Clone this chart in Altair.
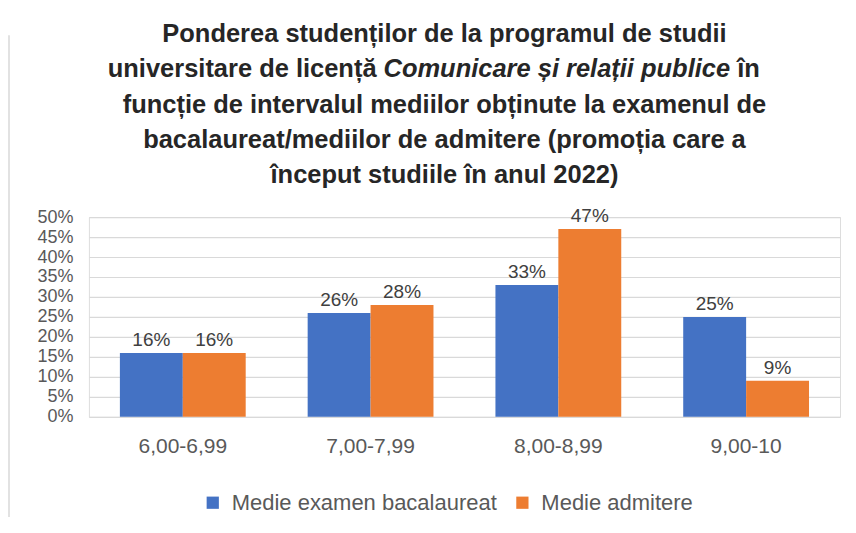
import altair as alt
import pandas as pd

categories = ["6,00-6,99", "7,00-7,99", "8,00-8,99", "9,00-10"]
series_names = ["Medie examen bacalaureat", "Medie admitere"]
bac_values = [16, 26, 33, 25]
adm_values = [16, 28, 47, 9]
colors = ["#4472C4", "#ED7D31"]

title_lines = [
    "Ponderea studenților de la programul de studii",
    None,
    "funcție de intervalul mediilor obținute la examenul de",
    "bacalaureat/mediilor de admitere (promoția care a",
    "început studiile în anul 2022)",
]
title_line2 = ["universitare de licență", "Comunicare și relații publice", "în"]

rows = []
for c, b, a in zip(categories, bac_values, adm_values):
    rows.append({"cat": c, "serie": series_names[0], "val": b / 100})
    rows.append({"cat": c, "serie": series_names[1], "val": a / 100})
df = pd.DataFrame(rows)

W, H = 752, 200
FONT = "Liberation Sans"
TFS = 25.5

x = alt.X("cat:N", sort=categories, title=None,
          scale=alt.Scale(paddingInner=0.33, paddingOuter=0.165),
          axis=alt.Axis(labelAngle=0, labelFont=FONT, labelFontSize=21, labelColor="#595959",
                        labelPadding=19, ticks=False, domain=False, grid=False))
xoff = alt.XOffset("serie:N", sort=series_names, scale=alt.Scale(paddingInner=0, paddingOuter=0))
y = alt.Y("val:Q", title=None,
          scale=alt.Scale(domain=[0, 0.5]),
          axis=alt.Axis(format=".0%", values=[i / 100 for i in range(0, 51, 5)], labelFont=FONT,
                        labelFontSize=18, labelColor="#595959", labelPadding=16, ticks=False,
                        domain=False, gridColor="#D9D9D9", gridWidth=1.2))
color = alt.Color("serie:N", sort=series_names,
                  scale=alt.Scale(domain=series_names, range=colors),
                  legend=alt.Legend(title=None, orient="none", direction="horizontal",
                                    legendX=113, legendY=275, symbolType="square", symbolSize=150,
                                    symbolStrokeWidth=0, labelFont=FONT, labelFontSize=22,
                                    labelColor="#595959", columnPadding=14, labelOffset=8,
                                    labelLimit=0))

base = alt.Chart(df).encode(x=x, xOffset=xoff, y=y)
bars = base.mark_bar(strokeWidth=0).encode(color=color)
labels = base.mark_text(dy=-13, font=FONT, fontSize=19, color="#404040").encode(
    text=alt.Text("val:Q", format=".0%"))

cx = 356
line_y = [-183, -148, -112, -77, -42]
title_layers = []
for ly, t in zip(line_y, title_lines):
    if t is None:
        continue
    title_layers.append(
        alt.Chart(pd.DataFrame({"t": [t]})).mark_text(
            font=FONT, fontSize=TFS, fontWeight="bold", color="#262626", baseline="middle",
            align="center").encode(text="t:N", x=alt.value(cx), y=alt.value(ly)))
pieces = [(title_line2[0], 288, "right", "normal"),
          (title_line2[1], 295, "left", "italic"),
          (title_line2[2], 649, "left", "normal")]
for t, px, al, st in pieces:
    title_layers.append(
        alt.Chart(pd.DataFrame({"t": [t]})).mark_text(
            font=FONT, fontSize=TFS, fontWeight="bold", fontStyle=st, color="#262626",
            baseline="middle", align=al).encode(text="t:N", x=alt.value(px), y=alt.value(line_y[1])))

frame = alt.Chart(pd.DataFrame({"k": [0]})).mark_rule(color="#D9D9D9", strokeWidth=1.5).encode(
    x=alt.value(-80), y=alt.value(-182), y2=alt.value(320))

chart = alt.layer(frame, bars, labels, *title_layers).properties(
    width=W, height=H,
    autosize=alt.AutoSizeParams(type="none"),
    padding={"left": 81, "top": 209, "right": 8, "bottom": 100},
).configure_view(stroke=None).configure(background="white")

chart.save("out.html", embed_options={"renderer": "svg", "actions": False})
